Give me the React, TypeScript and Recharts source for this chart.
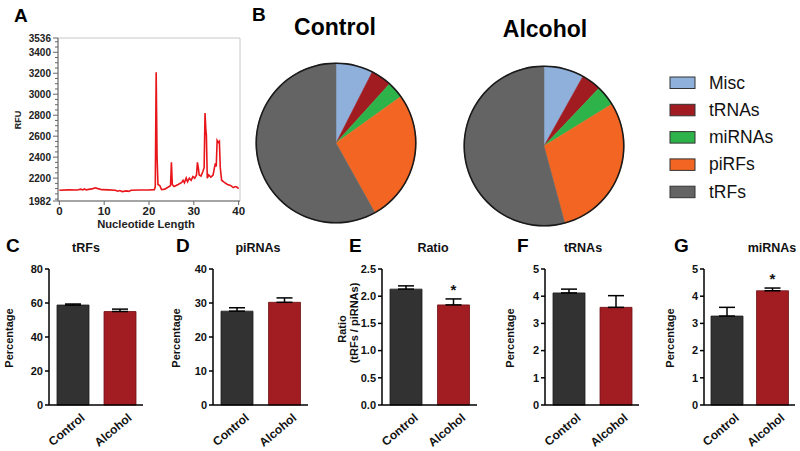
import {
  Bar,
  BarChart,
  Cell,
  ErrorBar,
  LabelList,
  Line,
  LineChart,
  Pie,
  PieChart,
  ReferenceArea,
  XAxis,
  YAxis,
} from "recharts";

const FONT = '"Liberation Sans", Arial, Helvetica, sans-serif';

// A: capillary electrophoresis trace
const traceLength = [
  0, 2, 4, 4.8, 5.2, 5.6, 6, 7.5, 8, 8.6, 9.5, 11, 12.5, 13, 13.5, 14, 15, 15.5, 16, 18,
  20, 21.2, 21.4, 21.6, 21.8, 22, 22.4, 22.8, 23.5, 24.5, 24.8, 25, 25.2, 25.6, 26.5, 27.3,
  27.6, 27.9, 28.3, 28.6, 29, 29.4, 29.8, 30.2, 30.6, 30.8, 31, 31.2, 31.6, 32, 32.3, 32.5,
  32.7, 32.8, 33, 33.3, 33.8, 34.3, 34.6, 34.8, 35, 35.2, 35.5, 35.7, 35.9, 36.2, 36.8, 37.5,
  38.2, 38.8, 39.2, 39.6, 40,
];
const traceRfu = [
  2085, 2088, 2087, 2095, 2088, 2097, 2088, 2100, 2108, 2100, 2090, 2088, 2085, 2075, 2082,
  2072, 2078, 2074, 2085, 2087, 2087, 2090, 2120, 3210, 2400, 2140, 2130, 2090, 2095, 2120,
  2130, 2350, 2140, 2120, 2140, 2160, 2180, 2155, 2200, 2165, 2200, 2180, 2215, 2200, 2230,
  2350, 2300, 2230, 2220, 2260, 2300, 2820, 2650, 2610, 2200, 2230, 2210, 2230, 2300, 2340,
  2310, 2560, 2540, 2550, 2300, 2180, 2160, 2140, 2130, 2110, 2120, 2115, 2100,
];
const lengthDomain: [number, number] = [-0.3, 40.3];
const rfuDomain: [number, number] = [1982, 3536];
const lengthTicks = [0, 10, 20, 30, 40];
const rfuMajorTicks = [1982, 2200, 2400, 2600, 2800, 3000, 3200, 3400, 3536];
const rfuMinorTicks = [
  2000, 2050, 2100, 2150, 2250, 2300, 2350, 2450, 2500, 2550, 2650, 2700, 2750, 2850, 2900,
  2950, 3050, 3100, 3150, 3250, 3300, 3350, 3450, 3500,
];

// B: composition pies
const pieCategories = ["Misc", "tRNAs", "miRNAs", "piRFs", "tRFs"];
const pieColors = ["#8eb0da", "#a01c21", "#2eb34b", "#f26522", "#646464"];
const controlShares = [7.5, 4.2, 3.4, 26.8, 58.1];
const alcoholShares = [8.1, 4.0, 4.1, 29.6, 54.2];

// C-G: group means with SEM
const groups = ["Control", "Alcohol"];
const groupColors = ["#323232", "#a21d22"];
const groupEdges = ["#1a1a1a", "#6e1014"];

const tRFsMean = [58.8, 55.0];
const tRFsErr = [0.6, 1.4];
const piRNAsMean = [27.6, 30.2];
const piRNAsErr = [1.0, 1.3];
const ratioMean = [2.13, 1.84];
const ratioErr = [0.06, 0.11];
const ratioMarks = ["", "*"];
const tRNAsMean = [4.12, 3.59];
const tRNAsErr = [0.14, 0.43];
const miRNAsMean = [3.27, 4.2];
const miRNAsErr = [0.32, 0.1];
const miRNAsMarks = ["", "*"];

const traceData = traceLength.map((x, i) => ({ x, rfu: traceRfu[i] }));
const rfuTicks = [...rfuMajorTicks, ...rfuMinorTicks].sort((a, b) => a - b);

function rfuTick(props: any) {
  const { x, y, payload } = props;
  const major = rfuMajorTicks.includes(payload.value);
  return (
    <g>
      <line x1={x - (major ? 5 : 3)} x2={x} y1={y} y2={y} stroke="#666" strokeWidth={1} />
      {major && (
        <text x={x - 7} y={y} dy="0.35em" textAnchor="end" fontSize={10} fontWeight="bold" fontFamily={FONT} fill="#222">
          {payload.value}
        </text>
      )}
    </g>
  );
}

function lengthTick(props: any) {
  const { x, y, payload } = props;
  return (
    <g>
      <line x1={x} x2={x} y1={y} y2={y + 4} stroke="#666" strokeWidth={1} />
      <text x={x} y={y + 14} textAnchor="middle" fontSize={11.5} fontWeight="bold" fontFamily={FONT} fill="#222">
        {payload.value}
      </text>
    </g>
  );
}

function groupTick(props: any) {
  const { x, y, payload } = props;
  const ax = x + 13;
  const ay = y + 14;
  return (
    <text
      x={ax}
      y={ay}
      textAnchor="end"
      transform={`rotate(-40 ${ax} ${ay})`}
      fontSize={12}
      fontWeight="bold"
      fontFamily={FONT}
      fill="#111"
    >
      {payload.value}
    </text>
  );
}

const valueTick = (fmt?: (v: number) => string) => (props: any) => {
  const { x, y, payload } = props;
  return (
    <g>
      <line x1={x - 4} x2={x} y1={y} y2={y} stroke="#000" strokeWidth={1.5} />
      <text x={x - 6} y={y} dy="0.35em" textAnchor="end" fontSize={11} fontWeight="bold" fontFamily={FONT} fill="#111">
        {fmt ? fmt(payload.value) : payload.value}
      </text>
    </g>
  );
};

// star sits just above the top of the error bar
const markLabel = (means: number[], errors: number[]) => (props: any) => {
  const vb = props.viewBox ?? {};
  const x = Number(props.x ?? vb.x);
  const y = Number(props.y ?? vb.y);
  const width = Number(props.width ?? vb.width);
  const height = Number(props.height ?? vb.height);
  const { value, index } = props;
  if (!value) return null;
  const perUnit = height / means[index];
  const top = y - errors[index] * perUnit;
  return (
    <text x={x + width / 2} y={top - 4} textAnchor="middle" fontSize={15} fontWeight="bold" fontFamily={FONT} fill="#111">
      {value}
    </text>
  );
};

type BarPanelProps = {
  axisX: number;
  plotWidth: number;
  means: number[];
  errors: number[];
  marks?: string[];
  domain: [number, number];
  ticks: number[];
  fmt?: (v: number) => string;
};

function BarPanel({ axisX, plotWidth, means, errors, marks, domain, ticks, fmt }: BarPanelProps) {
  const yAxisWidth = 30;
  const data = groups.map((group, i) => ({
    group,
    mean: means[i],
    err: [0, errors[i]],
    mark: marks ? marks[i] : "",
  }));
  return (
    <div style={{ position: "absolute", left: axisX - yAxisWidth, top: 230 }}>
      <BarChart
        width={yAxisWidth + plotWidth + 4}
        height={221}
        data={data}
        barSize={32}
        margin={{ top: 39, right: 4, bottom: 0, left: 0 }}
      >
        <XAxis
          dataKey="group"
          height={46}
          interval={0}
          tickLine={false}
          tickSize={0}
          tickMargin={0}
          axisLine={{ stroke: "#000", strokeWidth: 1.5 }}
          tick={groupTick}
        />
        <YAxis
          width={yAxisWidth}
          domain={domain}
          ticks={ticks}
          interval={0}
          tickLine={false}
          tickSize={0}
          tickMargin={0}
          axisLine={{ stroke: "#000", strokeWidth: 1.5 }}
          tick={valueTick(fmt)}
        />
        <Bar dataKey="mean" isAnimationActive={false}>
          {data.map((d, i) => (
            <Cell key={d.group} fill={groupColors[i]} stroke={groupEdges[i]} strokeWidth={0.8} />
          ))}
          <ErrorBar dataKey="err" width={8} stroke="#000" strokeWidth={1.5} direction="y" isAnimationActive={false} />
          {marks && <LabelList dataKey="mark" content={markLabel(means, errors)} />}
        </Bar>
      </BarChart>
    </div>
  );
}

function Pies() {
  const control = pieCategories.map((name, i) => ({ name, value: controlShares[i] }));
  const alcohol = pieCategories.map((name, i) => ({ name, value: alcoholShares[i] }));
  const ring = [{ name: "ring", value: 1 }];
  const pies = [
    { key: "control", data: control, cx: 96, cy: 143 },
    { key: "alcohol", data: alcohol, cx: 304, cy: 146 },
  ];
  return (
    <div style={{ position: "absolute", left: 240, top: 0 }}>
      <PieChart width={400} height={240} margin={{ top: 0, right: 0, bottom: 0, left: 0 }}>
        {pies.map((p) => (
          <Pie
            key={p.key}
            data={p.data}
            dataKey="value"
            nameKey="name"
            cx={p.cx}
            cy={p.cy}
            outerRadius={80}
            startAngle={90}
            endAngle={-270}
            isAnimationActive={false}
          >
            {p.data.map((d, i) => (
              <Cell key={d.name} fill={pieColors[i]} stroke={pieColors[i]} strokeWidth={0.5} />
            ))}
          </Pie>
        ))}
        {pies.map((p) => (
          <Pie
            key={p.key + "-ring"}
            data={ring}
            dataKey="value"
            cx={p.cx}
            cy={p.cy}
            innerRadius={79}
            outerRadius={80.6}
            startAngle={90}
            endAngle={-270}
            fill="#1a1a1a"
            stroke="none"
            isAnimationActive={false}
          />
        ))}
      </PieChart>
    </div>
  );
}

function Overlay() {
  const letter = { fontSize: 19, fontWeight: "bold" as const, fontFamily: FONT, fill: "#000" };
  const title = { fontSize: 12.5, fontWeight: "bold" as const, fontFamily: FONT, fill: "#111", textAnchor: "middle" as const };
  const ylab = { fontSize: 11, fontWeight: "bold" as const, fontFamily: FONT, fill: "#111", textAnchor: "middle" as const };
  const panelTitles = [
    { t: "tRFs", x: 86 },
    { t: "piRNAs", x: 258 },
    { t: "Ratio", x: 433 },
    { t: "tRNAs", x: 583 },
    { t: "miRNAs", x: 772 },
  ];
  const letters = [
    { t: "A", x: 14, y: 22 },
    { t: "B", x: 252, y: 21 },
    { t: "C", x: 6, y: 252 },
    { t: "D", x: 176, y: 252 },
    { t: "E", x: 349, y: 252 },
    { t: "F", x: 517, y: 252 },
    { t: "G", x: 674, y: 252 },
  ];
  const pctLabels = [12.5, 179.5, 513.5, 673.5];
  return (
    <svg width={800} height={451} style={{ position: "absolute", left: 0, top: 0, pointerEvents: "none" }}>
      {letters.map((l) => (
        <text key={l.t} x={l.x} y={l.y} {...letter}>
          {l.t}
        </text>
      ))}
      {panelTitles.map((p) => (
        <text key={p.t} x={p.x} y={252} {...title}>
          {p.t}
        </text>
      ))}
      <text x={146} y={228} fontSize={11.2} fontWeight="bold" fontFamily={FONT} fill="#222" textAnchor="middle">
        Nucleotide Length
      </text>
      <text x={21} y={120} transform="rotate(-90 21 120)" fontSize={9} fontWeight="bold" fontFamily={FONT} fill="#222" textAnchor="middle">
        RFU
      </text>
      <text x={335} y={35} fontSize={23} fontWeight="bold" fontFamily={FONT} fill="#000" textAnchor="middle">
        Control
      </text>
      <text x={545} y={37} fontSize={23} fontWeight="bold" fontFamily={FONT} fill="#000" textAnchor="middle">
        Alcohol
      </text>
      {pieCategories.map((c, i) => (
        <g key={c}>
          <rect x={670} y={77 + i * 27.3} width={25} height={11.5} fill={pieColors[i]} stroke="#333" strokeWidth={1} />
          <text x={709} y={88.5 + i * 27.3} fontSize={17.5} fontFamily={FONT} fill="#111">
            {c}
          </text>
        </g>
      ))}
      {pctLabels.map((x) => (
        <text key={x} x={x} y={338} transform={`rotate(-90 ${x} 338)`} {...ylab}>
          Percentage
        </text>
      ))}
      <text x={345.5} y={329} transform="rotate(-90 345.5 329)" {...ylab}>
        Ratio
      </text>
      <text x={358} y={323} transform="rotate(-90 358 323)" {...ylab}>
        (tRFs / piRNAs)
      </text>
    </svg>
  );
}

export default function App() {
  return (
    <div
      style={{
        position: "absolute",
        left: 0,
        top: 0,
        width: 800,
        height: 451,
        background: "#fff",
        overflow: "hidden",
        fontFamily: FONT,
      }}
    >
      <div style={{ position: "absolute", left: 0, top: 0 }}>
        <LineChart width={250} height={230} data={traceData} margin={{ top: 38, right: 10, bottom: 9, left: 18 }}>
          <ReferenceArea
            x1={lengthDomain[0]}
            x2={lengthDomain[1]}
            y1={rfuDomain[0]}
            y2={rfuDomain[1]}
            fill="none"
            stroke="#c8c8c8"
            strokeWidth={1}
          />
          <XAxis
            type="number"
            dataKey="x"
            domain={lengthDomain}
            ticks={lengthTicks}
            interval={0}
            height={20}
            tickLine={false}
            tickSize={0}
            tickMargin={0}
            axisLine={{ stroke: "#666", strokeWidth: 1 }}
            tick={lengthTick}
          />
          <YAxis
            type="number"
            domain={rfuDomain}
            ticks={rfuTicks}
            interval={0}
            width={40}
            tickLine={false}
            tickSize={0}
            tickMargin={0}
            axisLine={{ stroke: "#666", strokeWidth: 1 }}
            tick={rfuTick}
          />
          <Line type="linear" dataKey="rfu" stroke="#e8161b" strokeWidth={1.6} dot={false} isAnimationActive={false} />
        </LineChart>
      </div>
      <Pies />
      <BarPanel axisX={49} plotWidth={94} means={tRFsMean} errors={tRFsErr} domain={[0, 80]} ticks={[0, 20, 40, 60, 80]} />
      <BarPanel axisX={213} plotWidth={95} means={piRNAsMean} errors={piRNAsErr} domain={[0, 40]} ticks={[0, 10, 20, 30, 40]} />
      <BarPanel
        axisX={382}
        plotWidth={95}
        means={ratioMean}
        errors={ratioErr}
        marks={ratioMarks}
        domain={[0, 2.5]}
        ticks={[0, 0.5, 1, 1.5, 2, 2.5]}
        fmt={(v) => v.toFixed(1)}
      />
      <BarPanel axisX={545} plotWidth={94} means={tRNAsMean} errors={tRNAsErr} domain={[0, 5]} ticks={[0, 1, 2, 3, 4, 5]} />
      <BarPanel
        axisX={704}
        plotWidth={91}
        means={miRNAsMean}
        errors={miRNAsErr}
        marks={miRNAsMarks}
        domain={[0, 5]}
        ticks={[0, 1, 2, 3, 4, 5]}
      />
      <Overlay />
    </div>
  );
}
